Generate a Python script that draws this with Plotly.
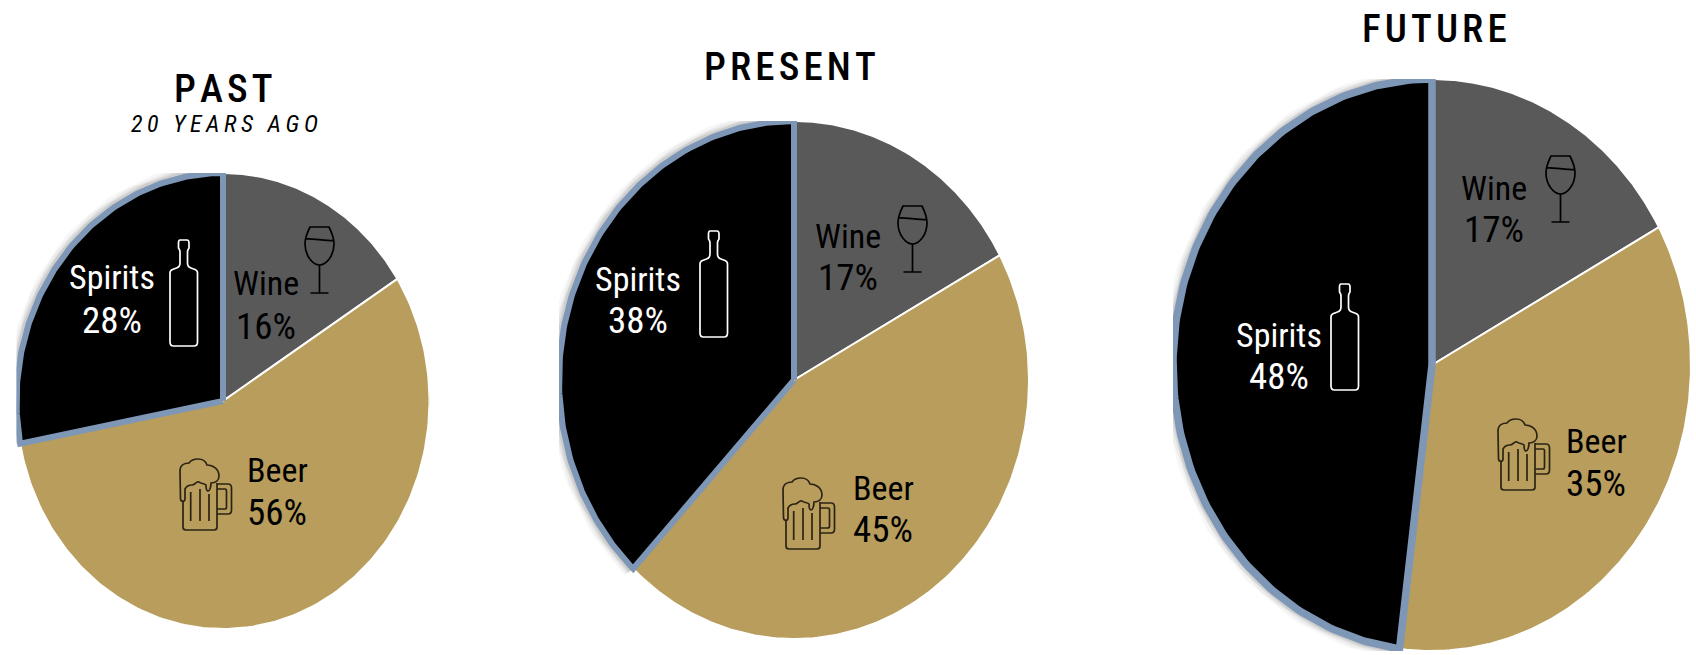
import re
import numpy as np
import plotly.graph_objects as go

W, H = 1696, 655

# Drink shares per period, percent
categories = ["Wine", "Beer", "Spirits"]
past_values = [16, 56, 28]
present_values = [17, 45, 38]
future_values = [17, 35, 48]
period_titles = ["PAST", "PRESENT", "FUTURE"]
past_subtitle = "20 YEARS AGO"

WINE, BEER, SPIRITS = "#595959", "#B89D5C", "#000000"
OUTLINE = "#7F97B6"
FONT = "Roboto Condensed"

# Per-pie layout: centre and radii in pixels (the pies are drawn slightly taller than wide)
pies = [
    dict(values=past_values, cx=223, cy=401, rx=206.5, ry=228, edge=6,
         title=(223, 89), title_size=39,
         names=[(266, 283), (277, 470), (112, 277)],
         shares=[(266, 326), (277, 512), (112, 320)],
         bottle=(170, 240), glass=(305, 227), mug=(180, 459)),
    dict(values=present_values, cx=794, cy=380, rx=235, ry=259, edge=6,
         title=(790, 67), title_size=39,
         names=[(848, 236), (883, 488), (638, 279)],
         shares=[(848, 277), (883, 529), (638, 320)],
         bottle=(700, 231), glass=(898, 206), mug=(783, 478)),
    dict(values=future_values, cx=1432, cy=365, rx=259, ry=286, edge=7.5,
         title=(1434, 29), title_size=39,
         names=[(1494, 188), (1596, 441), (1279, 335)],
         shares=[(1494, 229), (1596, 483), (1279, 376)],
         bottle=(1331, 284), glass=(1546, 156), mug=(1498, 419)),
]

# Icon outlines in local pixel units, origin at the icon's top-left corner
BOTTLE = ("M10 0 L17 0 Q19 0 19 3 L19 8 Q17.5 10 17.5 12 L17.5 23 Q17.5 27 21 28 L25 29.5 "
          "Q27.5 30.5 27.5 33 L27.5 102 Q27.5 106 24 106 L3.5 106 Q0 106 0 102 L0 33 "
          "Q0 30.5 2.5 29.5 L6.5 28 Q10 27 10 23 L10 12 Q10 10 8.5 8 L8.5 3 Q8.5 0 10 0 Z")
GLASS = ("M5 0 L24 0 C27 6 29 12 29 17 C29 29 21 38 14.5 38 C8 38 0 29 0 17 C0 12 2 6 5 0 Z "
         "M14.5 38 L14.5 66 M5.5 66 L23.5 66 M1 12 C8 11 14 14 28.5 13.5")
MUG = ("M0 12 C0 6 5 4 9 4 C11 1 14 0 18 0 C23 0 26 3 27 6 C33 6 39 10 39 17 C39 22 35 24 31 24 "
       "C31 27 30 32 28 32 C26 32 26 28 26 26 C24 24 21 25 19 23 C16 22 15 26 12 26 "
       "C9 26 6 28 5 30 L5 40 C5 43 1 43 0.5 40 L0 12 Z "
       "M3 42 L3 68 Q3 71 6 71 L34 71 Q37 71 37 68 L37 24 "
       "M37 25 L48 25 Q51.5 25 51.5 29 L51.5 51 Q51.5 55 48 55 L37 55 "
       "M37 30 L45 30 Q46.5 30 46.5 32 L46.5 48 Q46.5 50 45 50 L37 50 "
       "M10.7 33 L10.7 62 M20 30 L20 62 M29 35 L29 62")


def place(path, x0, y0):
    """Shift a local icon path to its position on the pixel overlay."""
    tokens = re.findall(r"[A-Za-z]|-?\d+\.?\d*", path)
    out, is_x = [], True
    for tok in tokens:
        if tok.isalpha():
            out.append(tok)
            is_x = True
        else:
            out.append(f"{float(tok) + (x0 if is_x else y0):.2f}")
            is_x = not is_x
    return " ".join(out)


def arc(start, stop):
    """Points along the unit circle, clockwise from 12 o'clock, between two percent marks."""
    t = np.linspace(start, stop, 160) / 100 * 2 * np.pi
    return np.sin(t), np.cos(t)


def spaced(text, gap="\u200a"):
    # tracked-out caps for the headings
    return gap.join(text)


def label(text, x, y, size, color="black", weight=400):
    return dict(x=x, y=y, xref="x4", yref="y4", text=text, showarrow=False,
                xanchor="center", yanchor="middle",
                font=dict(family=FONT, size=size, color=color, weight=weight))


fig = go.Figure()
layout_axes = {}
annotations = []
shapes = []

for i, pie in enumerate(pies, start=1):
    suffix = "" if i == 1 else str(i)
    xa, ya = f"x{suffix}", f"y{suffix}"
    layout_axes[f"xaxis{suffix}"] = dict(
        domain=[(pie["cx"] - pie["rx"]) / W, (pie["cx"] + pie["rx"]) / W],
        range=[-1, 1], visible=False, fixedrange=True, anchor=ya)
    layout_axes[f"yaxis{suffix}"] = dict(
        domain=[1 - (pie["cy"] + pie["ry"]) / H, 1 - (pie["cy"] - pie["ry"]) / H],
        range=[-1, 1], visible=False, fixedrange=True, anchor=xa)

    edges = np.cumsum([0] + pie["values"])

    # soft halo beneath the outlined spirits slice
    sx, sy = arc(edges[2], edges[3])
    for width, alpha in [(22, 0.03), (18, 0.04), (14, 0.06), (11, 0.08)]:
        fig.add_trace(go.Scatter(x=sx, y=sy, xaxis=xa, yaxis=ya, mode="lines",
                                 line=dict(color=f"rgba(0,0,0,{alpha})", width=width),
                                 hoverinfo="skip", cliponaxis=False, showlegend=False))

    colors = [WINE, BEER, SPIRITS]
    for k, name in enumerate(categories):
        ax, ay = arc(edges[k], edges[k + 1])
        is_spirits = name == "Spirits"
        fig.add_trace(go.Scatter(
            x=np.r_[0, ax, 0], y=np.r_[0, ay, 0], xaxis=xa, yaxis=ya, mode="lines",
            fill="toself", fillcolor=colors[k], name=name,
            line=dict(color=OUTLINE if is_spirits else "white",
                      width=pie["edge"] if is_spirits else 2),
            hoverinfo="skip", cliponaxis=False, showlegend=False))

    # slice labels: the name with its share underneath
    for k, name in enumerate(categories):
        color = "white" if name == "Spirits" else "black"
        annotations.append(label(name, *pie["names"][k], 34, color))
        annotations.append(label(f"{pie['values'][k]}%", *pie["shares"][k], 37, color))

    # heading
    tx, ty = pie["title"]
    annotations.append(label(spaced(period_titles[i - 1]), tx, ty, pie["title_size"], weight=500))

    # drink icons
    for path, key, color in [(BOTTLE, "bottle", "white"), (GLASS, "glass", "black"), (MUG, "mug", "#2B2414")]:
        x0, y0 = pie[key]
        shapes.append(dict(type="path", path=place(path, x0, y0), xref="x4", yref="y4",
                           layer="above", line=dict(color=color, width=1.7),
                           fillcolor="rgba(0,0,0,0)"))

annotations.append(label("<i>" + spaced(past_subtitle, "\u2009") + "</i>", 224, 124, 24))

# Pixel overlay for text and icons; it needs one invisible point to exist
fig.add_trace(go.Scatter(x=[0], y=[0], xaxis="x4", yaxis="y4", mode="markers",
                         marker=dict(opacity=0), hoverinfo="skip", showlegend=False))
layout_axes["xaxis4"] = dict(domain=[0, 1], range=[0, W], visible=False, fixedrange=True, anchor="y4")
layout_axes["yaxis4"] = dict(domain=[0, 1], range=[H, 0], visible=False, fixedrange=True, anchor="x4")

fig.update_layout(width=W, height=H, margin=dict(l=0, r=0, t=0, b=0),
                  paper_bgcolor="white", plot_bgcolor="rgba(0,0,0,0)", showlegend=False,
                  annotations=annotations, shapes=shapes, **layout_axes)
fig.write_html("out.html", config=dict(displayModeBar=False))
